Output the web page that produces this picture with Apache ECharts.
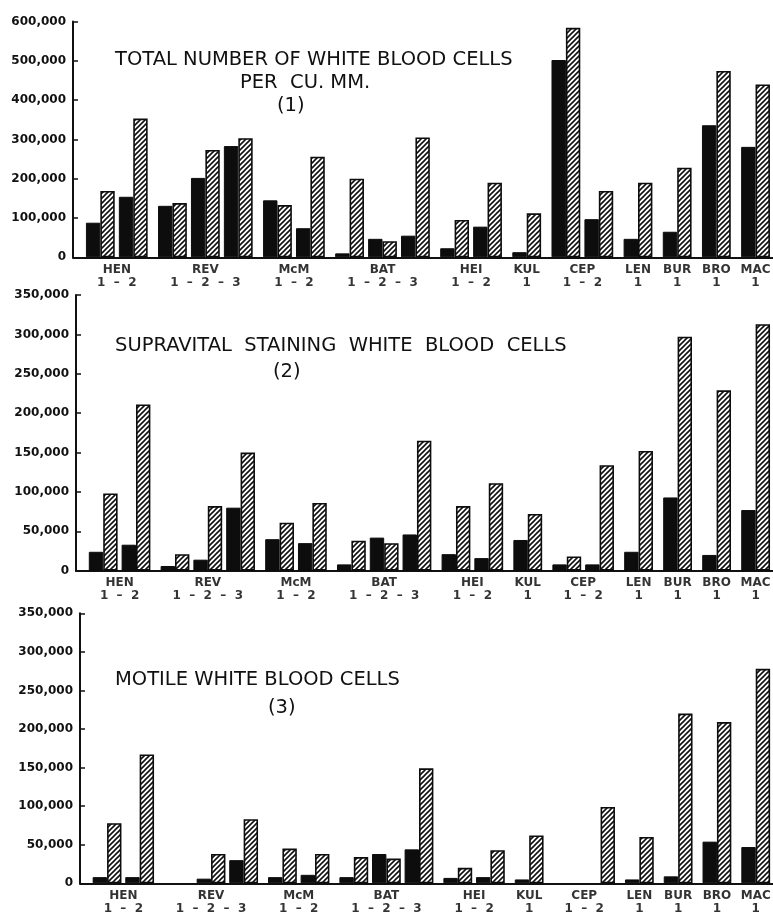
<!DOCTYPE html>
<html><head><meta charset="utf-8">
<script src="https://cdn.jsdelivr.net/npm/echarts@6/dist/echarts.min.js"></script>
<style>html,body{margin:0;padding:0;background:#fff}#c{width:773px;height:913px}</style>
</head><body><div id="c"></div>
<script>
// ---- data (values in thousands of cells per cu. mm.) ----
const groups = ['HEN','REV','McM','BAT','HEI','KUL','CEP','LEN','BUR','BRO','MAC'];
const groupSizes = [2,3,2,3,2,1,2,1,1,1,1];
const subLabels = ['1  \u2013  2','1  \u2013  2  \u2013  3','1  \u2013  2','1  \u2013  2  \u2013  3','1  \u2013  2','1','1  \u2013  2','1','1','1','1'];

const totalSolid   = [88,154,131,202,283,145,74,10,47,55,23,78,13,502,97,47,65,336,281];
const totalHatched = [169,353,138,273,303,133,256,200,41,305,95,190,112,584,169,190,228,474,440];

const supraSolid   = [24,33,6,14,80,40,35,8,42,46,21,16,39,8,8,24,93,20,77];
const supraHatched = [98,211,21,82,150,61,86,38,35,165,82,111,72,18,134,152,297,229,313];

const motileSolid   = [8,8,0,6,30,8,11,8,38,44,7,8,5,0,0,5,9,54,47];
const motileHatched = [78,167,0,38,83,45,38,34,32,149,20,43,62,0,99,60,220,209,278];

const titles = [
  ['TOTAL NUMBER OF WHITE BLOOD CELLS','PER  CU. MM.','(1)'],
  ['SUPRAVITAL  STAINING  WHITE  BLOOD  CELLS','(2)'],
  ['MOTILE WHITE BLOOD CELLS','(3)']
];

// ---- layout helpers ----
const GROUP_EXTRA = 0.19;
const pairPos = [];
const groupCenter = [];
groupSizes.forEach((n, g) => {
  const start = pairPos.length;
  for (let k = 0; k < n; k++) pairPos.push(pairPos.length + g * GROUP_EXTRA);
  groupCenter.push((pairPos[start] + pairPos[start + n - 1]) / 2);
});

function hatchCanvas() {
  const s = 5, c = document.createElement('canvas');
  c.width = s; c.height = s;
  const g = c.getContext('2d');
  g.fillStyle = '#fff'; g.fillRect(0, 0, s, s);
  g.strokeStyle = '#111'; g.lineWidth = 1.6;
  g.beginPath();
  g.moveTo(0, s); g.lineTo(s, 0);
  g.moveTo(-1, 1); g.lineTo(1, -1);
  g.moveTo(s - 1, s + 1); g.lineTo(s + 1, s - 1);
  g.stroke();
  return c;
}
const hatchPattern = { image: hatchCanvas(), repeat: 'repeat' };

const FONT = 'DejaVu Sans';
const panels = [
  { solid: totalSolid, hatched: totalHatched, max: 600, step: 100, left: 73, top: 21.5, height: 235.8 },
  { solid: supraSolid, hatched: supraHatched, max: 350, step: 50, left: 76, top: 295, height: 275.7 },
  { solid: motileSolid, hatched: motileHatched, max: 350, step: 50, left: 80, top: 613.3, height: 270 }
];

const grid = [], xAxis = [], yAxis = [], series = [];
panels.forEach((p, i) => {
  grid.push({ left: p.left, right: 0, top: p.top, height: p.height });
  xAxis.push({
    type: 'value', gridIndex: i, min: -0.83, max: 20.43,
    axisLine: { show: true, onZero: false, lineStyle: { color: '#111', width: 2 } },
    axisTick: { show: false }, axisLabel: { show: false }, splitLine: { show: false }
  });
  yAxis.push({
    type: 'value', gridIndex: i, min: 0, max: p.max, interval: p.step,
    axisLine: { show: true, onZero: false, lineStyle: { color: '#111', width: 2 } },
    axisTick: { show: true, inside: true, length: 5, lineStyle: { color: '#111', width: 1.5 } },
    splitLine: { show: false },
    axisLabel: {
      color: '#111', fontFamily: FONT, fontWeight: 'bold', fontSize: 12, margin: 7,
      formatter: v => v === 0 ? '0' : v + ',000'
    }
  });
  const mk = arr => arr.map((v, k) => v > 0 ? [pairPos[k], v] : [pairPos[k], '-']);
  series.push({
    type: 'bar', xAxisIndex: i, yAxisIndex: i, barWidth: 14.4, barGap: '0%',
    data: mk(p.solid), silent: true,
    itemStyle: { color: '#0d0d0d', borderColor: '#0d0d0d', borderWidth: 1 }
  });
  series.push({
    type: 'bar', xAxisIndex: i, yAxisIndex: i, barWidth: 14.4, barGap: '0%',
    data: mk(p.hatched), silent: true,
    itemStyle: { color: hatchPattern, borderColor: '#0d0d0d', borderWidth: 1.6 }
  });
  series.push({
    type: 'scatter', xAxisIndex: i, yAxisIndex: i, symbolSize: 2, clip: false, silent: true,
    itemStyle: { color: 'rgba(0,0,0,0)' },
    labelLayout: { hideOverlap: false },
    data: groups.map((g, k) => ({ value: [groupCenter[k], 0], name: g, sub: subLabels[k] })),
    label: {
      show: true, position: 'bottom', distance: 5,
      formatter: q => '{n|' + q.name + '}\n{s|' + q.data.sub + '}',
      rich: {
        n: { fontFamily: FONT, fontWeight: 'bold', fontSize: 12, color: '#000', lineHeight: 13 },
        s: { fontFamily: FONT, fontWeight: 'bold', fontSize: 12, color: '#000', lineHeight: 13 }
      }
    }
  });
});

const tStyle = { fontFamily: FONT, fontWeight: 'normal', fontSize: 19.5, color: '#111' };
const title = [
  { text: titles[0][0], left: 115, top: 50, textStyle: tStyle },
  { text: titles[0][1], left: 240, top: 73, textStyle: tStyle },
  { text: titles[0][2], left: 277, top: 96, textStyle: tStyle },
  { text: titles[1][0], left: 115, top: 336, textStyle: tStyle },
  { text: titles[1][1], left: 273, top: 362, textStyle: tStyle },
  { text: titles[2][0], left: 115, top: 670, textStyle: tStyle },
  { text: titles[2][1], left: 268, top: 698, textStyle: tStyle }
].map(t => Object.assign(t, { padding: 0 }));

const chart = echarts.init(document.getElementById('c'), null, { renderer: 'canvas' });
chart.setOption({ backgroundColor: '#fff', animation: false, title, grid, xAxis, yAxis, series });
</script>
</body></html>
